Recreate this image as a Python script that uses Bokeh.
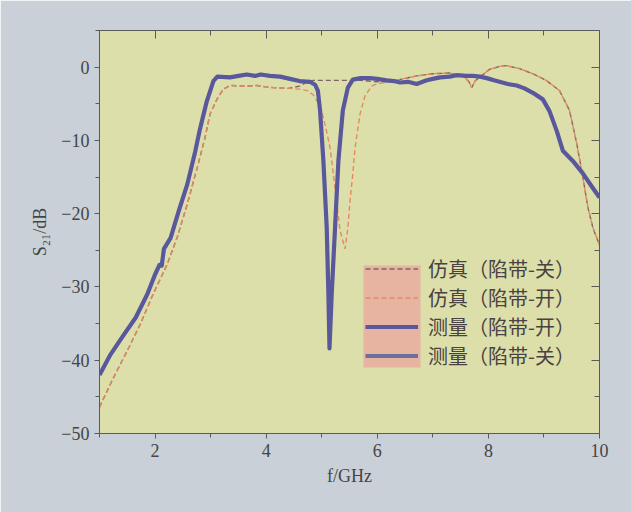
from bokeh.plotting import figure
from bokeh.models import (Range1d, LinearAxis, FixedTicker, Legend, LegendItem,
                          BoxAnnotation)
from bokeh.embed import file_html
from bokeh.resources import INLINE
import numpy as np

# ---------------- data ----------------
meas_on_f = [1.0, 1.2, 1.43, 1.65, 1.86, 2.0, 2.08, 2.12, 2.16, 2.28, 2.42, 2.58, 2.72,
             2.81, 2.93, 3.05, 3.12, 3.35, 3.5, 3.65, 3.8, 3.9, 4.07, 4.25, 4.43, 4.6,
             4.79, 4.88, 4.93, 4.97, 5.03, 5.09, 5.12, 5.14, 5.18, 5.24, 5.30, 5.38,
             5.47, 5.56, 5.7, 5.87, 6.0, 6.17, 6.3, 6.41, 6.55, 6.71, 6.89, 7.0, 7.13,
             7.3, 7.43, 7.6, 7.72, 7.85, 7.97, 8.1, 8.2, 8.35, 8.51, 8.65, 8.8, 8.98,
             9.1, 9.23, 9.34, 9.52, 9.7, 9.87, 10.0]
meas_on_db = [-42.0, -39.2, -36.6, -34.2, -31.0, -28.3, -27.0, -27.1, -24.8, -23.3, -19.8,
              -16.0, -11.6, -8.4, -4.7, -1.9, -1.3, -1.4, -1.2, -1.0, -1.2, -1.0, -1.2,
              -1.3, -1.6, -1.9, -2.0, -2.4, -3.2, -5.9, -12.8, -21.9, -30.9, -38.4, -30.9,
              -21.9, -12.8, -5.9, -2.8, -1.7, -1.5, -1.5, -1.6, -1.8, -1.9, -2.1, -2.0,
              -2.3, -1.8, -1.6, -1.4, -1.3, -1.1, -1.2, -1.2, -1.3, -1.5, -1.8, -2.0, -2.3,
              -2.5, -2.9, -3.5, -4.4, -6.0, -8.7, -11.4, -12.8, -14.5, -16.4, -17.8]

sim_on_f = [1.0, 1.25, 1.5, 1.74, 1.97, 2.22, 2.4, 2.58, 2.76, 2.9, 2.99, 3.12, 3.23, 3.35,
            3.6, 3.84, 4.0, 4.13, 4.4, 4.6, 4.74, 4.85, 4.93, 5.0, 5.08, 5.15, 5.2, 5.27,
            5.33, 5.42, 5.47, 5.51, 5.56, 5.6, 5.69, 5.78, 5.9, 5.99, 6.2, 6.4, 6.71, 7.0,
            7.3, 7.55, 7.65, 7.7, 7.76, 7.84, 8.02, 8.2, 8.33, 8.56, 8.8, 9.04, 9.28, 9.46,
            9.59, 9.7, 9.79, 9.88, 10.0]
sim_on_db = [-46.4, -42.4, -38.7, -35.0, -30.9, -26.9, -23.2, -18.7, -13.7, -9.6, -6.4,
             -4.3, -3.0, -2.5, -2.6, -2.5, -2.7, -2.8, -2.9, -3.0, -3.2, -3.8, -4.8, -6.0,
             -8.5, -11.0, -14.0, -18.5, -22.3, -24.8, -22.0, -18.2, -14.5, -11.0, -6.4,
             -3.9, -2.6, -2.3, -2.0, -1.7, -1.2, -0.9, -0.8, -1.2, -2.0, -2.8, -1.9, -1.4,
             -0.3, 0.1, 0.2, -0.2, -0.9, -1.8, -3.2, -5.9, -10.4, -15.0, -19.1, -21.9, -24.3]

sim_off_f = [1.0, 1.25, 1.5, 1.74, 1.97, 2.22, 2.4, 2.58, 2.76, 2.9, 2.99, 3.12, 3.23, 3.35,
             3.6, 3.84, 4.0, 4.13, 4.4, 4.6, 4.74, 4.85, 5.0, 5.2, 5.45, 5.7, 6.0, 6.2, 6.4,
             6.71, 7.0, 7.3, 7.55, 7.65, 7.7, 7.76, 7.84, 8.02, 8.2, 8.33, 8.56, 8.8, 9.04,
             9.28, 9.46, 9.59, 9.7, 9.79, 9.88, 10.0]
sim_off_db = [-46.4, -42.4, -38.7, -35.0, -30.9, -26.9, -23.2, -18.7, -13.7, -9.6, -6.4,
              -4.3, -3.0, -2.5, -2.6, -2.5, -2.7, -2.8, -2.9, -2.6, -2.0, -1.8, -1.8, -1.8,
              -1.8, -1.8, -2.0, -2.0, -1.7, -1.2, -0.9, -0.8, -1.2, -2.0, -2.8, -1.9, -1.4,
              -0.3, 0.1, 0.2, -0.2, -0.9, -1.8, -3.2, -5.9, -10.4, -15.0, -19.1, -21.9, -24.3]

# measured (notch off) is hidden under the other curves in the source: legend only
meas_off_f = [np.nan, np.nan]
meas_off_db = [np.nan, np.nan]

x_major = [2, 4, 6, 8, 10]
x_minor = [1, 3, 5, 7, 9]
y_major = [0, -10, -20, -30, -40, -50]
y_minor = [5, -5, -15, -25, -35, -45]

labels = ["仿真（陷带-关）", "仿真（陷带-开）", "测量（陷带-开）", "测量（陷带-关）"]

# ---------------- style ----------------
BG = "#c9d0d8"
PLOT_BG = "#dcdfa9"
AX = "#5a5a5a"
TXT = "#454545"
SERIF = "Liberation Serif"

p = figure(width=631, height=512, output_backend="svg", toolbar_location=None,
           x_range=Range1d(1, 10), y_range=Range1d(-50, 5),
           min_border_left=99, min_border_right=32, min_border_top=30, min_border_bottom=79,
           background_fill_color=PLOT_BG, border_fill_color=BG, outline_line_color=None)
p.grid.visible = False

def style(ax, labels_on, inward):
    ax.axis_line_color = AX
    ax.major_tick_line_color = AX
    ax.minor_tick_line_color = AX
    if inward:
        ax.major_tick_in, ax.major_tick_out = 8, 0
        ax.minor_tick_in, ax.minor_tick_out = 5, 0
    else:
        ax.major_tick_in, ax.major_tick_out = 0, 5
        ax.minor_tick_in, ax.minor_tick_out = 0, 4
    ax.major_label_text_font = SERIF
    ax.major_label_text_font_size = "18px"
    ax.major_label_text_color = TXT
    ax.major_label_standoff = 5
    ax.axis_label_text_font = SERIF
    ax.axis_label_text_font_size = "18px"
    ax.axis_label_text_font_style = "normal"
    ax.axis_label_text_color = TXT
    if not labels_on:
        ax.major_label_text_font_size = "0px"
        ax.major_label_text_color = None

p.xaxis.ticker = FixedTicker(ticks=x_major, minor_ticks=x_minor)
p.yaxis.ticker = FixedTicker(ticks=y_major, minor_ticks=y_minor)
style(p.xaxis[0], True, False)
style(p.yaxis[0], True, False)
p.yaxis[0].major_label_overrides = {v: str(v).replace("-", "\u2212") for v in y_major}
p.xaxis[0].axis_label = "f/GHz"
p.xaxis[0].axis_label_standoff = 6
p.yaxis[0].axis_label = "S\u2082\u2081/dB"
p.yaxis[0].axis_label_standoff = 8

top = LinearAxis(ticker=FixedTicker(ticks=x_major, minor_ticks=x_minor))
style(top, False, True)
p.add_layout(top, "above")
right = LinearAxis(ticker=FixedTicker(ticks=y_major, minor_ticks=y_minor))
style(right, False, True)
p.add_layout(right, "right")

# legend pink box (under glyphs)
p.add_layout(BoxAnnotation(left=264, right=321, bottom=66, top=168,
                           left_units="screen", right_units="screen",
                           bottom_units="screen", top_units="screen",
                           fill_color="#e8b4a2", fill_alpha=1.0, line_color=None,
                           level="underlay"))

r_sim_off = p.line(sim_off_f, sim_off_db, line_color="#7d6560", line_width=1.4, line_dash="5 3")
r_sim_on = p.line(sim_on_f, sim_on_db, line_color="#e38a62", line_width=1.4, line_dash="5 3")
r_meas_off = p.line(meas_off_f, meas_off_db, line_color="#6e6e98", line_width=4)
r_meas_on = p.line(meas_on_f, meas_on_db, line_color="#5a589c", line_width=4.2,
                   line_join="round")

legend = Legend(items=[LegendItem(label=labels[0], renderers=[r_sim_off]),
                       LegendItem(label=labels[1], renderers=[r_sim_on]),
                       LegendItem(label=labels[2], renderers=[r_meas_on]),
                       LegendItem(label=labels[3], renderers=[r_meas_off])],
                location=(266, 63), padding=0, margin=0, spacing=0,
                glyph_width=53, glyph_height=27, label_height=27, label_standoff=10,
                border_line_color=None, background_fill_alpha=0,
                label_text_font="Noto Sans CJK SC", label_text_font_size="20px",
                label_text_color="#4a4242")
p.add_layout(legend, "center")

open("out.html", "w").write(file_html(p, INLINE))
